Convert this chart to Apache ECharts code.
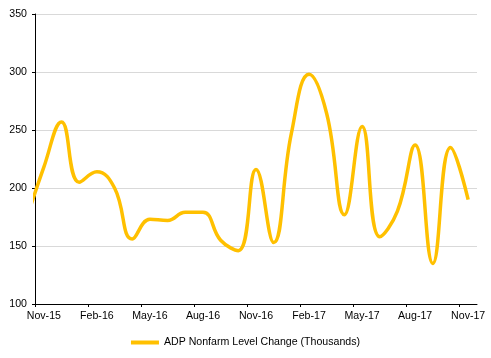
<!DOCTYPE html>
<html>
<head>
<meta charset="utf-8">
<script src="https://cdn.jsdelivr.net/npm/echarts@6/dist/echarts.min.js"></script>
<style>html,body{margin:0;padding:0;background:#fff;}#c{width:491px;height:358px;}</style>
</head>
<body>
<div id="c"></div>
<script>
// Months of data (Oct-15 lies just left of the plot and is clipped)
var months = ['Oct-15','Nov-15','Dec-15','Jan-16','Feb-16','Mar-16','Apr-16','May-16','Jun-16','Jul-16','Aug-16','Sep-16','Oct-16','Nov-16','Dec-16','Jan-17','Feb-17','Mar-17','Apr-17','May-17','Jun-17','Jul-17','Aug-17','Sep-17','Oct-17','Nov-17'];
var values = [172, 218, 257, 205, 214, 200, 156, 173, 172, 179, 179, 155, 146, 216, 153, 247, 298, 264, 177, 253, 158, 180, 237, 135, 235, 190];
var tickLabels = ['Nov-15','Feb-16','May-16','Aug-16','Nov-16','Feb-17','May-17','Aug-17','Nov-17'];
var yTicks = [100, 150, 200, 250, 300, 350];
var seriesName = 'ADP Nonfarm Level Change (Thousands)';

// month index position: Nov-15 start = 0, each point centred in its month
var data = values.map(function (v, i) { return [i - 0.5, v]; });
var tickPos = tickLabels.map(function (_, i) { return i * 3; });
var labelPos = tickLabels.map(function (_, i) { return i * 3 + 0.5; });

var font = 'Liberation Sans, Arial, sans-serif';
var chart = echarts.init(document.getElementById('c'), null, {renderer: 'canvas'});
chart.setOption({
  animation: false,
  grid: {left: 35, right: 14, top: 14, bottom: 54, containLabel: false},
  legend: {
    data: [seriesName],
    bottom: 10,
    left: 'center',
    padding: 0,
    itemWidth: 28,
    itemHeight: 4,
    icon: 'rect',
    textStyle: {fontFamily: font, fontSize: 10.6, color: '#000'}
  },
  xAxis: {
    type: 'value',
    min: 0,
    max: 25,
    interval: 3,
    axisLine: {show: true, lineStyle: {color: '#000', width: 1}},
    axisTick: {show: true, length: 3, customValues: tickPos, lineStyle: {color: '#000'}},
    axisLabel: {
      customValues: labelPos,
      margin: 7,
      fontFamily: font, fontSize: 10.6, color: '#000',
      formatter: function (v) { return tickLabels[Math.round((v - 0.5) / 3)] || ''; }
    },
    splitLine: {show: false}
  },
  yAxis: {
    type: 'value',
    min: yTicks[0],
    max: yTicks[yTicks.length - 1],
    interval: 50,
    axisLine: {show: true, lineStyle: {color: '#000', width: 1}},
    axisTick: {show: true, length: 3, lineStyle: {color: '#000'}},
    axisLabel: {margin: 8, fontFamily: font, fontSize: 10.6, color: '#000'},
    splitLine: {show: true, lineStyle: {color: '#d9d9d9', width: 1}}
  },
  series: [{
    name: seriesName,
    type: 'line',
    data: data,
    smooth: 0.45,
    showSymbol: false,
    clip: true,
    lineStyle: {color: '#FFC000', width: 3.5},
    itemStyle: {color: '#FFC000'}
  }]
});
</script>
</body>
</html>
